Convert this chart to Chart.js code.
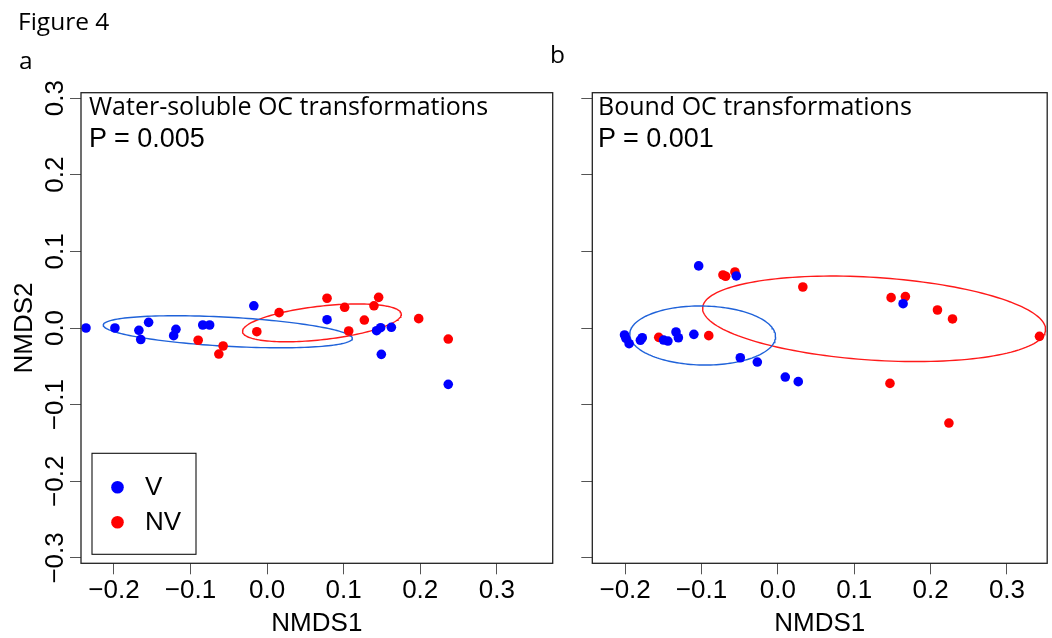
<!DOCTYPE html>
<html>
<head>
<meta charset="utf-8">
<script src="https://cdn.jsdelivr.net/npm/chart.js@4.4.1/dist/chart.umd.min.js"></script>
<style>
    html, body { margin: 0; padding: 0; background: #fff; overflow: hidden; }
    #page { position: relative; width: 1052px; height: 638px; }
    .wrap { position: absolute; top: 0; height: 638px; }
    .lbl { position: absolute; white-space: nowrap; line-height: 1; color: #000; }
    .sans { font-family: "Open Sans", "Noto Sans", sans-serif; }
    .helv { font-family: "Liberation Sans", Arial, sans-serif; }
</style>
</head>
<body>
<div id="page">
    <div class="wrap" style="left:0;width:566px"><canvas id="chartA"></canvas></div>
    <div class="wrap" style="left:566px;width:486px"><canvas id="chartB"></canvas></div>

    <div class="lbl sans" style="left:18px;top:9px;font-size:24.5px">Figure 4</div>
    <div class="lbl sans" style="left:19px;top:48px;font-size:24.5px">a</div>
    <div class="lbl sans" style="left:550px;top:42px;font-size:24.5px">b</div>

    <div class="lbl sans" style="left:89px;top:93px;font-size:25px">Water-soluble OC transformations</div>
    <div class="lbl helv" style="left:89px;top:125px;font-size:27px">P = 0.005</div>
    <div class="lbl sans" style="left:598px;top:93px;font-size:25px">Bound OC transformations</div>
    <div class="lbl helv" style="left:598px;top:125px;font-size:27px">P = 0.001</div>
</div>

<script>
// ---- data (NMDS scores) ----
const groupLabels = ['V', 'NV'];
const groupColors = ['#0000ff', '#ff0000'];
const ellipseColors = ['#1f62d9', '#ff1a1a'];

// a: water-soluble OC transformations
const waterV_x  = [-0.2365, -0.1987, -0.1674, -0.165, -0.1547, -0.119, -0.122, -0.084, -0.075, -0.0173, 0.0783, 0.1483, 0.143, 0.1623, 0.1492, 0.2366];
const waterV_y  = [0.000, 0.000, -0.003, -0.015, 0.0074, -0.0017, -0.010, 0.0039, 0.0039, 0.029, 0.0108, 0.0004, -0.0035, 0.0009, -0.0344, -0.0735];
const waterNV_x = [-0.090, -0.0574, -0.063, -0.0134, 0.0157, 0.0783, 0.1013, 0.127, 0.1066, 0.1457, 0.1396, 0.198, 0.2366];
const waterNV_y = [-0.016, -0.0235, -0.034, -0.0048, 0.020, 0.0388, 0.027, 0.0104, -0.0039, 0.040, 0.029, 0.0122, -0.0144];

// b: bound OC transformations
const boundV_x  = [-0.2008, -0.199, -0.1948, -0.180, -0.1776, -0.1497, -0.144, -0.1334, -0.1303, -0.110, -0.1037, -0.0544, -0.0492, -0.0269, 0.0097, 0.0267, 0.164];
const boundV_y  = [-0.0091, -0.0135, -0.0205, -0.016, -0.0127, -0.0157, -0.017, -0.0052, -0.0127, -0.0083, 0.081, 0.0679, -0.0388, -0.0444, -0.064, -0.070, 0.0317];
const boundNV_x = [-0.156, -0.0905, -0.0719, -0.0684, -0.0562, 0.0327, 0.1483, 0.167, 0.209, 0.2287, 0.3426, 0.1468, 0.224];
const boundNV_y = [-0.0122, -0.010, 0.0692, 0.0675, 0.0731, 0.0535, 0.0396, 0.041, 0.0235, 0.0118, -0.0109, -0.0723, -0.124];

// group ellipses: [centre x, centre y, semi-axis 1, semi-axis 2, angle deg]
const waterEllV  = [-0.0513, -0.0049, 0.1629, 0.019, -3.1];
const waterEllNV = [0.0716, 0.0067, 0.1043, 0.0219, 6.4];
const boundEllV  = [-0.0985, -0.0098, 0.0955, 0.0385, -1.0];
const boundEllNV = [0.126, 0.012, 0.225, 0.054, -3.7];

// axis limits (panel b is cut a little short on the right)
const waterXRange = [-0.243, 0.373];
const boundXRange = [-0.243, 0.3527];
const yRange = [-0.307, 0.307];

// ---- helpers ----
function toPoints(xs, ys) {
    return xs.map((x, i) => ({ x: x, y: ys[i] }));
}

function ellipseOutline(p) {
    const [cx, cy, ra, rb, deg] = p;
    const t = deg * Math.PI / 180;
    const pts = [];
    for (let i = 0; i <= 160; i++) {
        const u = i / 160 * 2 * Math.PI;
        const ex = ra * Math.cos(u), ey = rb * Math.sin(u);
        pts.push({ x: cx + ex * Math.cos(t) - ey * Math.sin(t), y: cy + ex * Math.sin(t) + ey * Math.cos(t) });
    }
    return pts;
}

function fmt(v) {
    if (Math.abs(v) < 1e-9) v = 0;
    return v.toFixed(1).replace('-', '\u2212');
}

function pointSet(label, pts, color) {
    return {
        label: label, data: pts, order: 0,
        backgroundColor: color, borderColor: color,
        pointRadius: 4.8, pointBorderWidth: 0, showLine: false
    };
}

function ellipseSet(pts, color) {
    return {
        label: '', data: pts, order: 1, isEllipse: true,
        showLine: true, borderColor: color, borderWidth: 1.4,
        pointRadius: 0, fill: false, tension: 0
    };
}

const tickFont = { family: '"Liberation Sans", Arial, sans-serif', size: 26 };

// draws the box round the plot region
const boxPlugin = {
    id: 'plotBox',
    afterDraw(chart) {
        const { ctx, chartArea: c } = chart;
        ctx.save();
        ctx.strokeStyle = '#222';
        ctx.lineWidth = 1.3;
        ctx.strokeRect(c.left, c.top, c.right - c.left, c.bottom - c.top);
        ctx.restore();
    }
};

// R-style boxed legend in the lower left corner
const boxLegendPlugin = {
    id: 'boxLegend',
    afterDraw(chart) {
        const { ctx, chartArea: c } = chart;
        const sets = chart.data.datasets.filter(d => !d.isEllipse);
        const left = c.left + 11, bottom = c.bottom - 9;
        const w = 104, h = 101;
        ctx.save();
        ctx.strokeStyle = '#111';
        ctx.lineWidth = 1.1;
        ctx.strokeRect(left, bottom - h, w, h);
        ctx.font = '26px "Liberation Sans", Arial, sans-serif';
        ctx.textBaseline = 'middle';
        sets.forEach((d, i) => {
            const y = bottom - h + 34 + i * 35;
            ctx.fillStyle = d.backgroundColor;
            ctx.beginPath();
            ctx.arc(left + 25.5, y, 6.3, 0, Math.PI * 2);
            ctx.fill();
            ctx.fillStyle = '#000';
            ctx.fillText(d.label, left + 53, y + 1);
        });
        ctx.restore();
    }
};

function makeOptions(xRange, yWidth, showYLabels, padTop, padRight) {
    return {
        responsive: true,
        maintainAspectRatio: false,
        animation: false,
        layout: { padding: { top: padTop, right: padRight, left: 0, bottom: 0 } },
        plugins: { legend: { display: false }, tooltip: { enabled: false } },
        scales: {
            x: {
                type: 'linear', position: 'bottom',
                min: xRange[0], max: xRange[1],
                border: { display: false },
                grid: { drawOnChartArea: false, drawTicks: true, tickLength: 11, color: '#555', lineWidth: 1 },
                ticks: {
                    stepSize: 0.1, includeBounds: false, color: '#000', font: tickFont,
                    padding: 1, maxRotation: 0, autoSkip: false,
                    callback: v => fmt(v)
                },
                title: { display: true, text: 'NMDS1', color: '#000', font: tickFont, padding: { top: 0, bottom: -1 } },
                afterFit: s => { s.height = 74.7; }
            },
            y: {
                type: 'linear', position: 'left',
                min: yRange[0], max: yRange[1],
                border: { display: false },
                grid: { drawOnChartArea: false, drawTicks: true, tickLength: 11, color: '#555', lineWidth: 1 },
                ticks: {
                    stepSize: 0.1, includeBounds: false, color: '#000', font: tickFont,
                    minRotation: 90, maxRotation: 90, crossAlign: 'center', padding: -11.2,
                    autoSkip: false,
                    callback: v => showYLabels ? fmt(v) : ''
                },
                title: { display: showYLabels, text: 'NMDS2', color: '#000', font: tickFont, padding: { top: 9.4, bottom: 0 } },
                afterFit: s => { s.width = yWidth; }
            }
        }
    };
}

document.addEventListener('DOMContentLoaded', () => {
    new Chart(document.getElementById('chartA'), {
        type: 'scatter',
        data: {
            datasets: [
                pointSet(groupLabels[0], toPoints(waterV_x, waterV_y), groupColors[0]),
                pointSet(groupLabels[1], toPoints(waterNV_x, waterNV_y), groupColors[1]),
                ellipseSet(ellipseOutline(waterEllV), ellipseColors[0]),
                ellipseSet(ellipseOutline(waterEllNV), ellipseColors[1])
            ]
        },
        options: makeOptions(waterXRange, 81, true, 92.7, 13.3),
        plugins: [boxPlugin, boxLegendPlugin]
    });

    new Chart(document.getElementById('chartB'), {
        type: 'scatter',
        data: {
            datasets: [
                pointSet(groupLabels[0], toPoints(boundV_x, boundV_y), groupColors[0]),
                pointSet(groupLabels[1], toPoints(boundNV_x, boundNV_y), groupColors[1]),
                ellipseSet(ellipseOutline(boundEllV), ellipseColors[0]),
                ellipseSet(ellipseOutline(boundEllNV), ellipseColors[1])
            ]
        },
        options: makeOptions(boundXRange, 26.3, false, 92.7, 4),
        plugins: [boxPlugin]
    });
});
</script>
</body>
</html>
